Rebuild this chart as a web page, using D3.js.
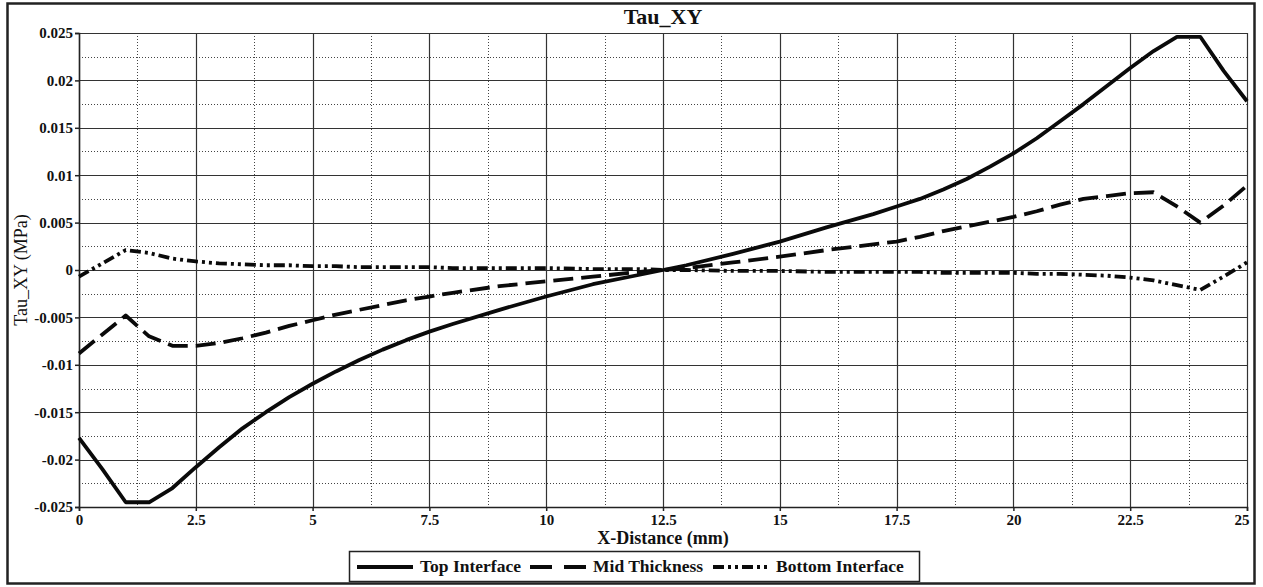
<!DOCTYPE html>
<html>
<head>
<meta charset="utf-8">
<script src="https://cdn.jsdelivr.net/npm/d3@7"></script>
<style>
  body { margin: 0; background: #fff; }
  svg text { font-family: "Liberation Serif", Tinos, "DejaVu Serif", serif; fill: #111; }
</style>
</head>
<body>
<div id="chart"></div>
<script>
(function () {
  'use strict';

  // x positions (mm) shared by all three series
  var xDistance = [0, 0.5, 1, 1.5, 2, 2.5, 3, 3.5, 4, 4.5, 5, 5.5, 6, 6.5, 7, 7.5, 8,
    9, 10, 11, 12, 12.5, 13, 14, 15, 16, 17, 17.5, 18, 18.5, 19, 19.5, 20, 20.5,
    21, 21.5, 22, 22.5, 23, 23.5, 24, 24.5, 25];

  var topInterface = [-0.0177, -0.0210, -0.0245, -0.0245, -0.0230, -0.0208, -0.0187,
    -0.0167, -0.0150, -0.0134, -0.0120, -0.0107, -0.0095, -0.0084, -0.0074, -0.0065,
    -0.0057, -0.0042, -0.0028, -0.0015, -0.0005, 0, 0.0005, 0.0017, 0.0030, 0.0045,
    0.0059, 0.0067, 0.0075, 0.0085, 0.0096, 0.0109, 0.0123, 0.0139, 0.0157, 0.0175,
    0.0194, 0.0213, 0.0231, 0.0246, 0.0246, 0.0210, 0.0178];

  var midThickness = [-0.0088, -0.0068, -0.0048, -0.0070, -0.0080, -0.0080, -0.0077,
    -0.0072, -0.0066, -0.0059, -0.0053, -0.0047, -0.0042, -0.0037, -0.0032, -0.0028,
    -0.0024, -0.0017, -0.0012, -0.0007, -0.0002, 0, 0.0002, 0.0008, 0.0014, 0.0021,
    0.0027, 0.0030, 0.0035, 0.0041, 0.0046, 0.0051, 0.0056, 0.0062, 0.0069, 0.0075,
    0.0078, 0.0081, 0.0082, 0.0067, 0.0050, 0.0068, 0.0089];

  var bottomInterface = [-0.0007, 0.0007, 0.0021, 0.0018, 0.0012, 0.0009, 0.0007,
    0.0006, 0.0005, 0.0005, 0.0004, 0.0004, 0.0003, 0.0003, 0.0003, 0.0003,
    0.0002, 0.0002, 0.0002, 0.0001, 0.0001, 0, 0, -0.0001, -0.0001, -0.0002,
    -0.0002, -0.0002, -0.0002, -0.0003, -0.0003, -0.0003, -0.0003, -0.0004,
    -0.0004, -0.0005, -0.0006, -0.0008, -0.0011, -0.0016, -0.0021, -0.0007, 0.0008];

  var seriesNames = ['Top Interface', 'Mid Thickness', 'Bottom Interface'];
  var xTicks = [0, 2.5, 5, 7.5, 10, 12.5, 15, 17.5, 20, 22.5, 25];
  var yTicks = [-0.025, -0.02, -0.015, -0.01, -0.005, 0, 0.005, 0.01, 0.015, 0.02, 0.025];

  var FONT = '"Liberation Serif", Tinos, "DejaVu Serif", serif';
  var WIDTH = 1263;
  var HEIGHT = 587;
  var MARGIN = { top: 33, right: 16, bottom: 80, left: 79 };
  var DASHES = ['none', '20,8', '11,4,3,4,3,4'];

  var plotW = WIDTH - MARGIN.left - MARGIN.right;
  var plotH = HEIGHT - MARGIN.top - MARGIN.bottom;

  var svg = d3.select('#chart').append('svg')
    .attr('width', WIDTH)
    .attr('height', HEIGHT);

  // outer frame
  svg.append('rect')
    .attr('x', 7.5).attr('y', 3.5)
    .attr('width', 1247).attr('height', 580)
    .attr('fill', 'none')
    .attr('stroke', '#222')
    .attr('stroke-width', 2.5);

  var g = svg.append('g')
    .attr('transform', 'translate(' + MARGIN.left + ',' + MARGIN.top + ')');

  var x = d3.scaleLinear().domain([0, 25]).range([0, plotW]);
  var y = d3.scaleLinear().domain([-0.025, 0.025]).range([plotH, 0]);

  // minor dotted grid, half way between major ticks
  var minorX = d3.range(0, 10).map(function (i) { return xTicks[i] + 1.25; });
  var minorY = d3.range(0, 10).map(function (i) { return yTicks[i] + 0.0025; });

  g.selectAll('line.minor-x').data(minorX).enter().append('line')
    .attr('class', 'minor-x')
    .attr('x1', function (d) { return Math.round(x(d)) + 0.5; })
    .attr('x2', function (d) { return Math.round(x(d)) + 0.5; })
    .attr('y1', 0).attr('y2', plotH)
    .attr('stroke', '#444').attr('stroke-width', 1)
    .attr('stroke-dasharray', '1,2');

  g.selectAll('line.minor-y').data(minorY).enter().append('line')
    .attr('class', 'minor-y')
    .attr('y1', function (d) { return Math.round(y(d)) + 0.5; })
    .attr('y2', function (d) { return Math.round(y(d)) + 0.5; })
    .attr('x1', 0).attr('x2', plotW)
    .attr('stroke', '#444').attr('stroke-width', 1)
    .attr('stroke-dasharray', '1,2');

  // major grid
  g.selectAll('line.major-x').data(xTicks).enter().append('line')
    .attr('class', 'major-x')
    .attr('x1', function (d) { return Math.round(x(d)) + 0.5; })
    .attr('x2', function (d) { return Math.round(x(d)) + 0.5; })
    .attr('y1', 0).attr('y2', plotH)
    .attr('stroke', '#333').attr('stroke-width', 1.2);

  g.selectAll('line.major-y').data(yTicks).enter().append('line')
    .attr('class', 'major-y')
    .attr('y1', function (d) { return Math.round(y(d)) + 0.5; })
    .attr('y2', function (d) { return Math.round(y(d)) + 0.5; })
    .attr('x1', 0).attr('x2', plotW)
    .attr('stroke', '#333').attr('stroke-width', 1.2);

  // axes
  var xAxis = d3.axisBottom(x)
    .tickValues(xTicks)
    .tickSize(4)
    .tickPadding(3)
    .tickFormat(function (d) { return String(d); });

  var yAxis = d3.axisLeft(y)
    .tickValues(yTicks)
    .tickSize(4)
    .tickPadding(2)
    .tickFormat(function (d) { return String(+d.toFixed(3)); });

  var gx = g.append('g')
    .attr('transform', 'translate(0,' + plotH + ')')
    .call(xAxis);
  var gy = g.append('g').call(yAxis);

  [gx, gy].forEach(function (ax) {
    ax.attr('font-family', FONT);
    ax.select('.domain').attr('stroke', '#222').attr('stroke-width', 1.5);
    ax.selectAll('.tick line').attr('stroke', '#222').attr('stroke-width', 1.5);
    ax.selectAll('.tick text')
      .attr('font-weight', 'bold')
      .attr('font-size', 15)
      .attr('fill', '#111');
  });

  // keep the last x label inside the frame
  gx.selectAll('.tick text').filter(function (d) { return d === 25; })
    .attr('text-anchor', 'end').attr('dx', 2);

  // data lines
  var seriesValues = [topInterface, midThickness, bottomInterface];
  var line = d3.line()
    .x(function (d) { return x(d[0]); })
    .y(function (d) { return y(d[1]); });

  seriesValues.forEach(function (vals, i) {
    var pts = xDistance.map(function (xv, j) { return [xv, vals[j]]; });
    g.append('path')
      .datum(pts)
      .attr('d', line)
      .attr('fill', 'none')
      .attr('stroke', '#0a0a0a')
      .attr('stroke-width', 3.8)
      .attr('stroke-linejoin', 'round')
      .attr('stroke-dasharray', DASHES[i]);
  });

  // title and axis titles
  svg.append('text')
    .attr('x', MARGIN.left + plotW / 2)
    .attr('y', 24)
    .attr('text-anchor', 'middle')
    .attr('font-weight', 'bold')
    .attr('font-size', 22)
    .text('Tau_XY');

  svg.append('text')
    .attr('x', MARGIN.left + plotW / 2)
    .attr('y', 544)
    .attr('text-anchor', 'middle')
    .attr('font-weight', 'bold')
    .attr('font-size', 18)
    .text('X-Distance (mm)');

  svg.append('text')
    .attr('transform', 'translate(27,' + (MARGIN.top + plotH / 2) + ') rotate(-90)')
    .attr('text-anchor', 'middle')
    .attr('font-size', 18)
    .text('Tau_XY (MPa)');

  // legend
  var legend = svg.append('g').attr('transform', 'translate(349,551)');
  legend.append('rect')
    .attr('x', 0.5).attr('y', 0.5)
    .attr('width', 570).attr('height', 30)
    .attr('fill', '#fff')
    .attr('stroke', '#222')
    .attr('stroke-width', 1.5);

  var legendX = [8, 181, 364];
  seriesNames.forEach(function (name, i) {
    var item = legend.append('g').attr('transform', 'translate(' + legendX[i] + ',0)');
    item.append('line')
      .attr('x1', 0).attr('x2', 56)
      .attr('y1', 16).attr('y2', 16)
      .attr('stroke', '#0a0a0a')
      .attr('stroke-width', 3.8)
      .attr('stroke-dasharray', i === 1 ? '22,12' : DASHES[i]);
    item.append('text')
      .attr('x', 63)
      .attr('y', 21)
      .attr('font-weight', 'bold')
      .attr('font-size', 17.5)
      .text(name);
  });
})();
</script>
</body>
</html>
